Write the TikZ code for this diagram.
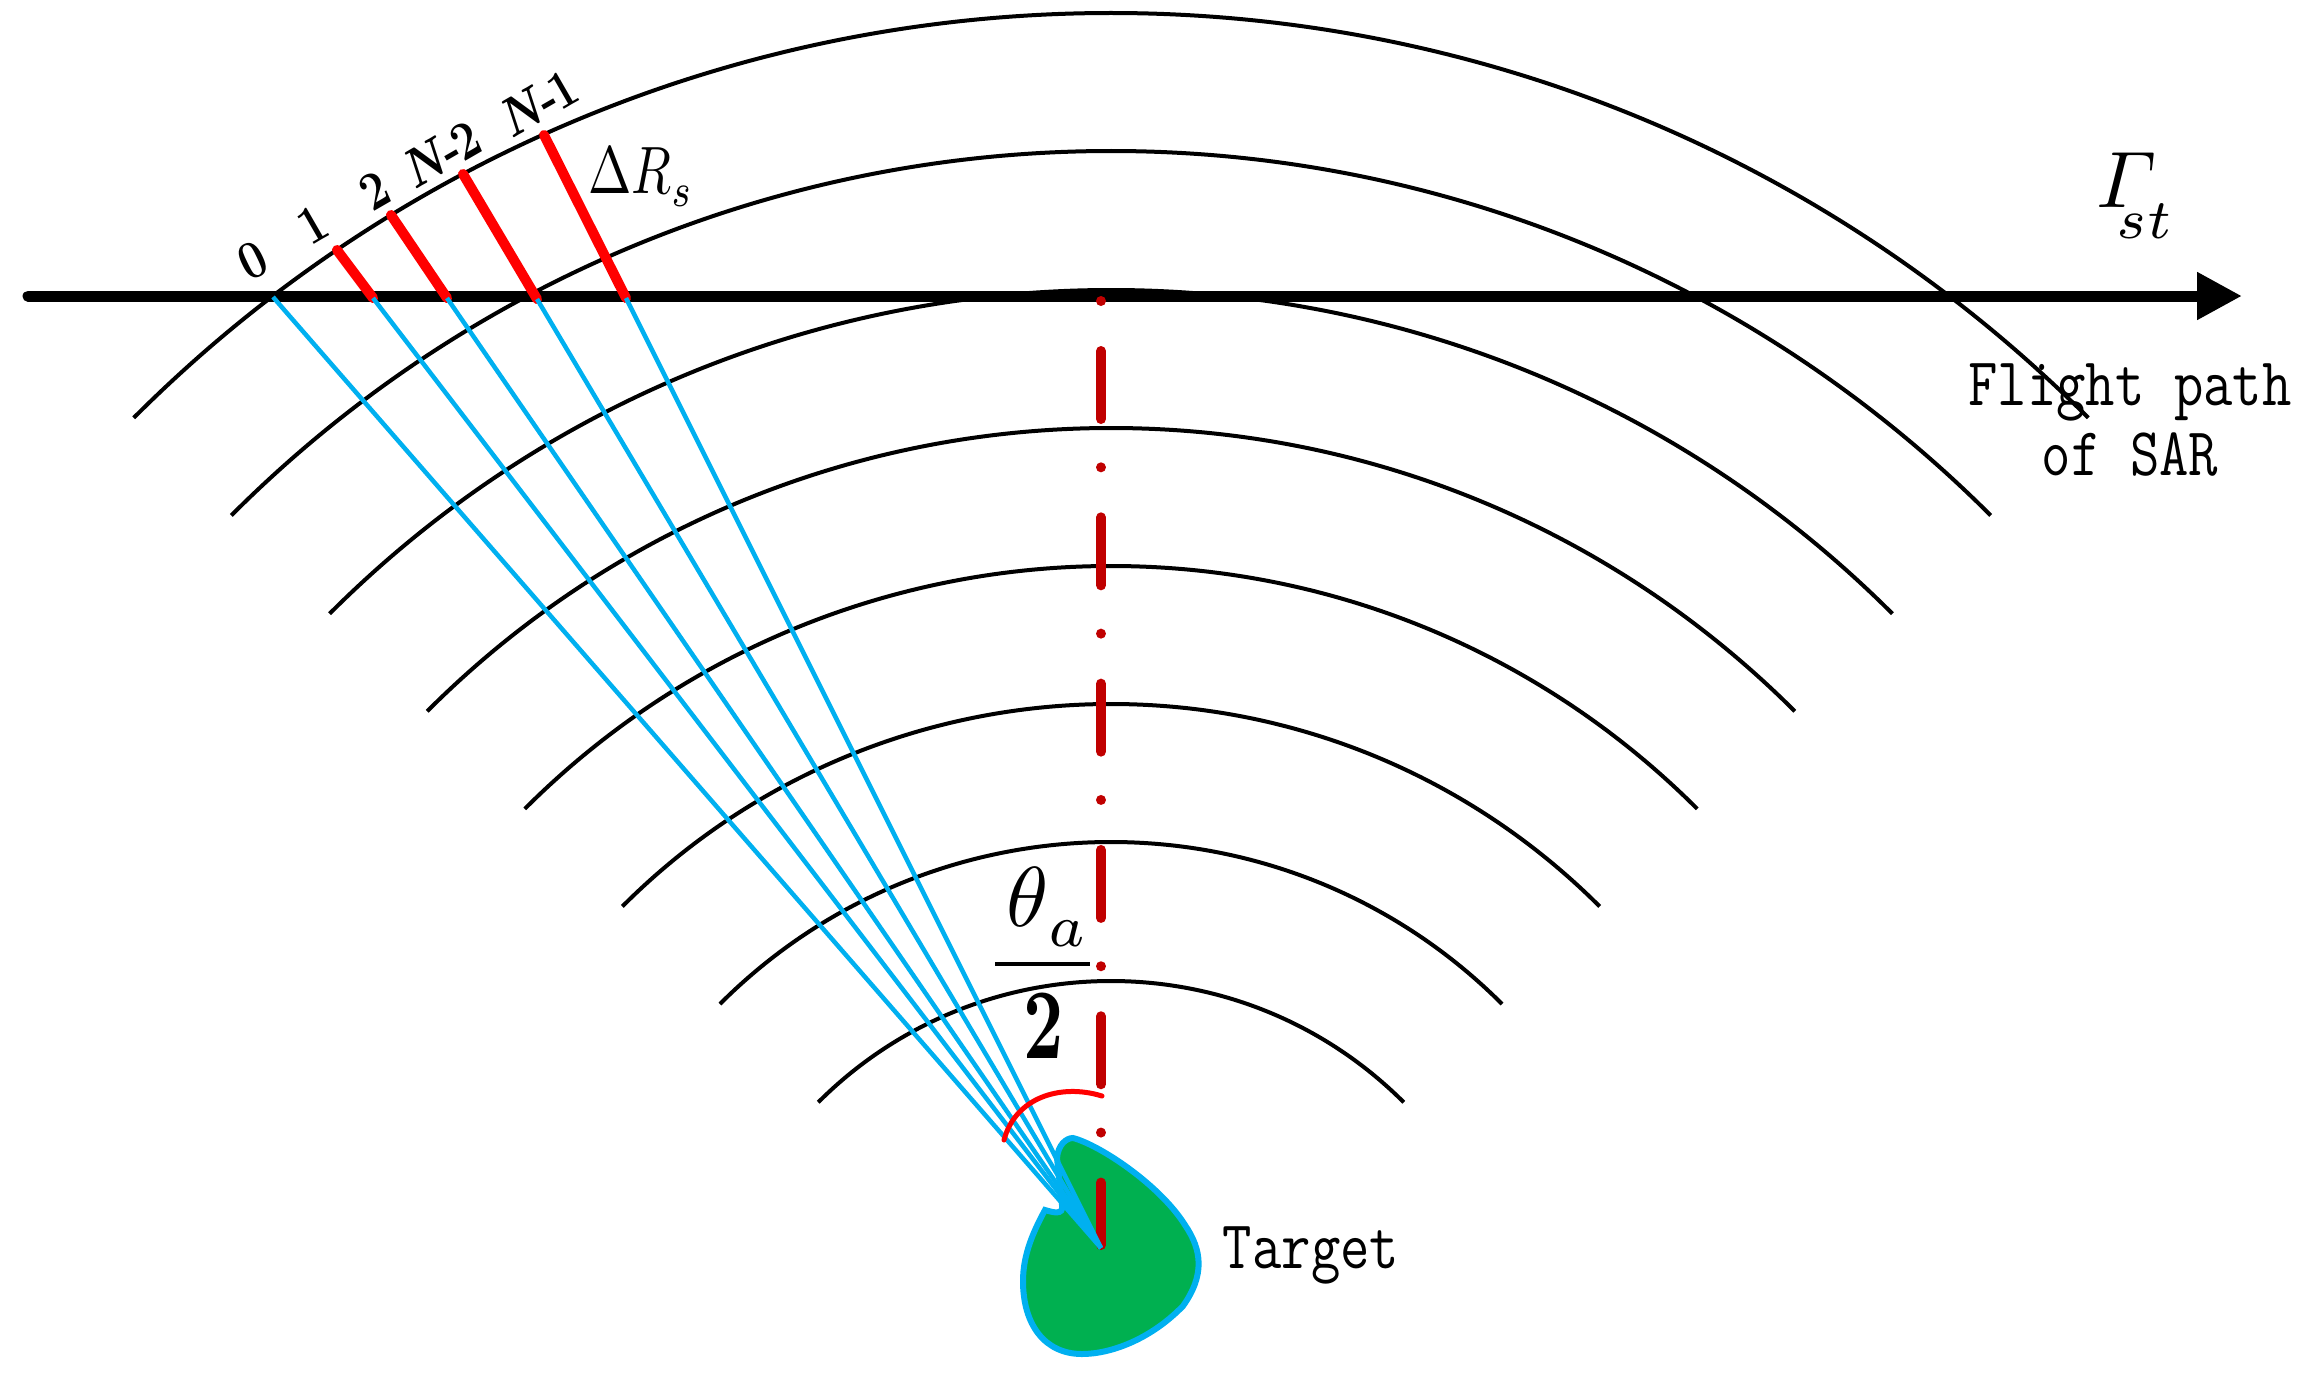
\documentclass[tikz,border=0pt]{standalone}
\usepackage{amsmath}
\usepackage{tikz}
\usetikzlibrary{arrows.meta}
\definecolor{beamblue}{HTML}{00B0F0}
\definecolor{darkred}{HTML}{C00000}
\definecolor{targetgreen}{HTML}{00B050}
\newcommand{\lowsub}[2]{\lower #1\hbox{$\scriptstyle #2$}}
\tikzset{
    wave/.style={
           draw=black,
           line width=4pt,
           },
    flight/.style={
           draw=black,
           line width=11pt,
           -{Triangle[length=45pt,width=45pt]},
           },
    beam/.style={
           draw=beamblue,
           line width=4.5pt,
           },
    sample/.style={
           draw=red,
           line width=10pt,
           line cap=round,
           },
    axis/.style={
           draw=darkred,
           line width=10pt,
           line cap=round,
           dash pattern=on 0.01pt off 50pt on 68pt off 48.3pt,
           },
    tick/.style={
           rotate=30,
           xscale=0.85,
           transform shape,
           inner sep=0pt,
           font=\fontsize{54}{54}\selectfont\bfseries,
           },
    caption/.style={
           inner sep=0pt,
           align=center,
           yscale=1.2,
           transform shape,
           font=\fontsize{57}{58}\selectfont\ttfamily,
           },
    formula/.style={
           inner sep=0pt,
           anchor=base west,
           transform shape,
           },
}

\begin{document}
\begin{tikzpicture}[x=1pt,y=-1pt]
    \useasboundingbox (0,0) rectangle (2303,1377);

    % the wave fronts, all around one centre
    \coordinate (centre) at (1111,1395);
    \draw[wave] (centre) ++(135:1382pt) arc[start angle=135,end angle=45,radius=1382pt];
    \draw[wave] (centre) ++(135:1244pt) arc[start angle=135,end angle=45,radius=1244pt];
    \draw[wave] (centre) ++(135:1105pt) arc[start angle=135,end angle=45,radius=1105pt];
    \draw[wave] (centre) ++(135:967pt) arc[start angle=135,end angle=45,radius=967pt];
    \draw[wave] (centre) ++(135:829pt) arc[start angle=135,end angle=45,radius=829pt];
    \draw[wave] (centre) ++(135:691pt) arc[start angle=135,end angle=45,radius=691pt];
    \draw[wave] (centre) ++(135:553pt) arc[start angle=135,end angle=45,radius=553pt];
    \draw[wave] (centre) ++(135:414pt) arc[start angle=135,end angle=45,radius=414pt];

    % the flight path
    \coordinate (start) at (28,296);
    \coordinate (tip) at (2242,296);
    \path (start) edge[flight, line cap=round] (tip);

    % the target
    \draw[beamblue, fill=targetgreen, line width=6pt]
        (1045,1210) .. controls (1052,1212) and (1064,1216) .. (1062,1205)
        -- (1057,1158)
        .. controls (1058,1145) and (1066,1138) .. (1073,1138)
        .. controls (1100,1145) and (1160,1185) .. (1185,1225)
        .. controls (1202,1250) and (1205,1275) .. (1183,1306)
        .. controls (1150,1340) and (1110,1354) .. (1082,1354)
        .. controls (1045,1354) and (1023,1325) .. (1023,1281)
        .. controls (1023,1255) and (1033,1232) .. (1045,1210) -- cycle;

    % the dash-dot axis
    \coordinate (top) at (1101,301);
    \coordinate (foot) at (1101,1245);
    \path (top) edge[axis] (foot);

    % points on the flight path and on the first wave front
    \coordinate (target) at (1101,1248);
    \coordinate (p0) at (273,297);
    \coordinate (p1) at (373,298);
    \coordinate (p2) at (447,298);
    \coordinate (p3) at (537,299);
    \coordinate (p4) at (626,298);
    \coordinate (q1) at (337,250);
    \coordinate (q2) at (391,215);
    \coordinate (q3) at (463,174);
    \coordinate (q4) at (544,135);

    % the red samples
    \path
        (q1) edge[sample] (p1)
        (q2) edge[sample] (p2)
        (q3) edge[sample] (p3)
        (q4) edge[sample] (p4);

    % the beams to the target
    \path
        (p0) edge[beam] (target)
        (p1) edge[beam] (target)
        (p2) edge[beam] (target)
        (p3) edge[beam] (target)
        (p4) edge[beam] (target);

    % the angle
    \coordinate (angleA) at (1102,1096);
    \coordinate (angleB) at (1004,1140);
    \draw[red, line width=5pt, line cap=round]
        (angleA) .. controls (1060,1083) and (1015,1098) .. (angleB);

    % the labels
    \node[tick, rotate=-5] (lab0) at (253,261) {0};
    \node[tick] (lab1) at (313,225) {1};
    \node[tick] (lab2) at (375,191) {2};
    \node[tick] (labN2) at (441,154) {\textit{N}\kern-4pt-\kern-3pt2};
    \node[tick] (labN1) at (538,103) {\textit{N}\kern-4pt-\kern-3pt1};

    \node[formula, xscale=5.2, yscale=6.7] (res) at (587,193) {$\Delta R\lowsub{2pt}{s}$};
    \node[formula, scale=8] (time) at (2095,207) {$\varGamma\kern-5pt\lowsub{3.9pt}{st}$};

    \node[formula, scale=8.5] (theta) at (1005,926) {$\theta\lowsub{2.4pt}{a}$};
    \coordinate (barL) at (995,964);
    \coordinate (barR) at (1090,964);
    \path (barL) edge[draw=black, line width=4pt] (barR);
    \node[formula, xscale=7, yscale=10] (two) at (1022,1058) {$\mathbf{2}$};

    \node[caption] (path) at (2130,420) {Flight path\\of SAR};
    \node[caption] (name) at (1311,1255) {Target};
\end{tikzpicture}
\end{document}
